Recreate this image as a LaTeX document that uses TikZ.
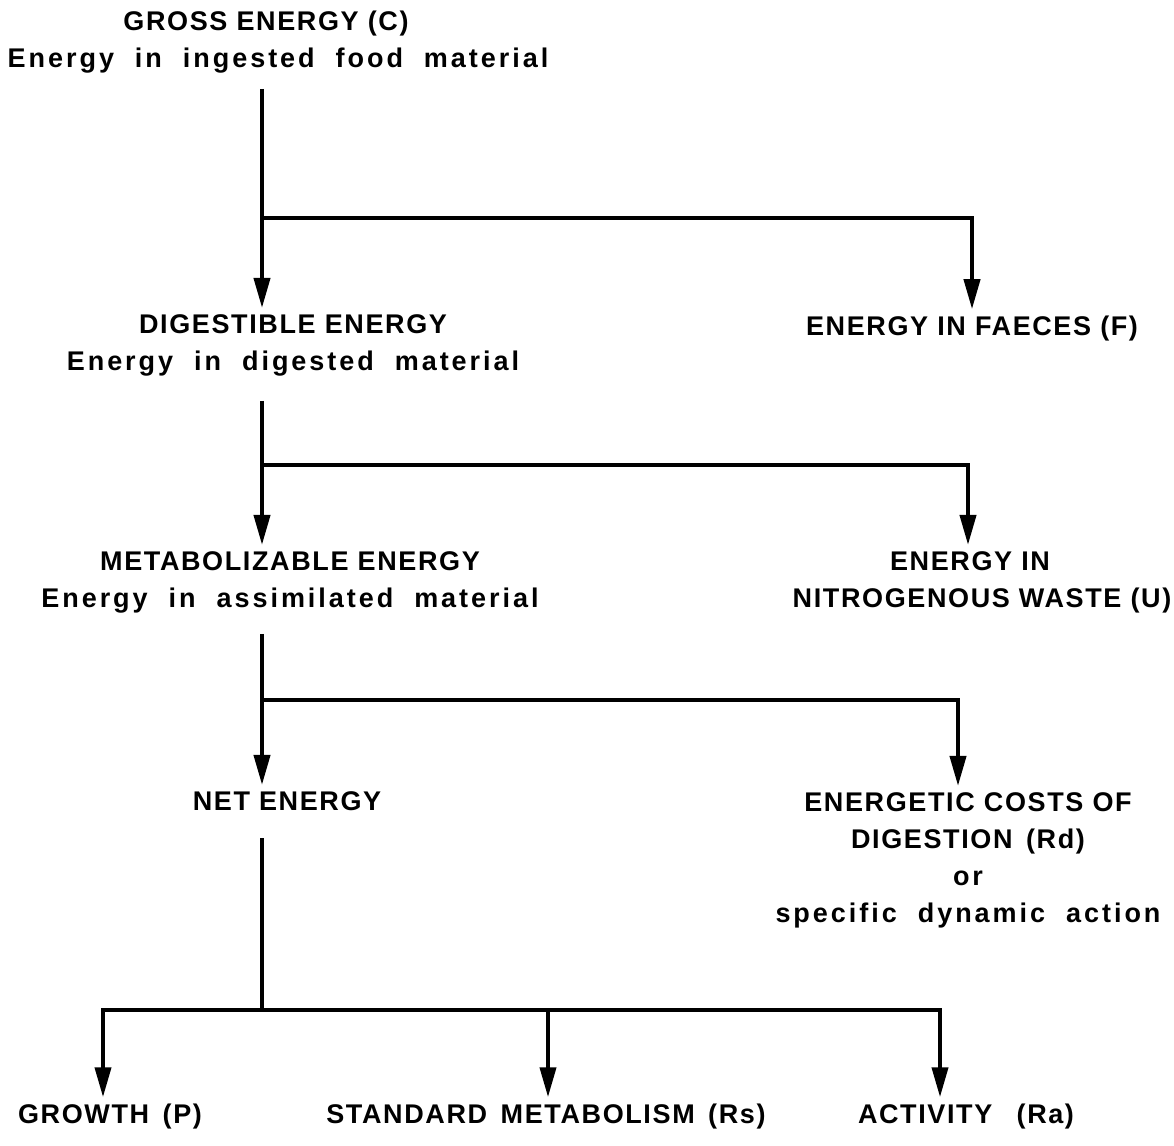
\documentclass[tikz,border=0pt]{standalone}
\usepackage{fontspec}
\usetikzlibrary{arrows.meta,positioning}
\newfontfamily\capfont{Liberation Sans}[LetterSpace=6]
\newfontfamily\lowfont{Liberation Sans}[LetterSpace=11,WordSpace=2.0]
\newcommand{\wgap}{\hspace{0.5em}}

\begin{document}
\begin{tikzpicture}[x=1pt,y=-1pt,
    txt/.style={font=\fontsize{27}{37}\selectfont\capfont\bfseries, align=center, inner sep=0pt, anchor=base},
    wire/.style={line width=4pt},
    flow/.style={wire, -{Triangle[length=30pt,width=16pt]}, shorten >=6pt}]
    \useasboundingbox (0,0) rectangle (1174,1145);

    % Energy levels (left column), placed by the baseline of the last line
    \node[txt] (gross)  at (278,68)  {GROSS ENERGY (C)\hspace*{24pt}\\{\lowfont Energy in ingested food material}};
    \node[txt] (digest) at (293,370) {DIGESTIBLE ENERGY\\{\lowfont Energy in digested material}};
    \node[txt] (metab)  at (290,607) {METABOLIZABLE ENERGY\\{\lowfont Energy in assimilated material}};
    \node[txt] (net)    at (287,810) {NET ENERGY};

    % Losses (right column)
    \node[txt] (faeces) at (972,335) {ENERGY IN FAECES (F)};
    \node[txt] (waste)  at (982,607) {ENERGY IN\hspace*{24pt}\\NITROGENOUS WASTE (U)};
    \node[txt] (sda)    at (968,922) {ENERGETIC COSTS OF\\DIGESTION\wgap(Rd)\\{\lowfont or}\\{\lowfont specific dynamic action}};

    % Partition of net energy
    \node[txt] (growth)   at (110,1123) {GROWTH\wgap(P)};
    \node[txt] (standard) at (546,1123) {STANDARD\wgap METABOLISM\wgap(Rs)};
    \node[txt] (activity) at (966,1123) {ACTIVITY\hspace{0.9em}(Ra)};

    % Branch points on the main line
    \coordinate (spine) at (262,0);
    \coordinate (j1) at (262,218);
    \coordinate (j2) at (262,465);
    \coordinate (j3) at (262,700);
    \coordinate (j4) at (262,1010);
    \coordinate (s) at ([xshift=2pt]standard.north);

    % Main flow
    \draw[flow, shorten <=15pt] (gross.south -| spine) -- (digest.north -| spine);
    \draw[flow, shorten <=25pt] (digest.south -| spine) -- (metab.north -| spine);
    \draw[flow, shorten <=21pt] (metab.south -| spine) -- (net.north -| spine);
    \draw[wire, shorten <=28pt] (net.south -| spine) -- (j4);

    % Losses
    \draw[flow] (j1) -| (faeces.north);
    \draw[flow] (j2) -| ([xshift=-14pt]waste.north);
    \draw[flow] (j3) -| ([xshift=-10pt]sda.north);

    % Net energy split
    \draw[flow] (j4) -| ([xshift=-7pt]growth.north);
    \draw[flow] (j4) -| ([xshift=-26pt]activity.north);
    \draw[flow] (j4 -| s) -- (s);
\end{tikzpicture}
\end{document}
